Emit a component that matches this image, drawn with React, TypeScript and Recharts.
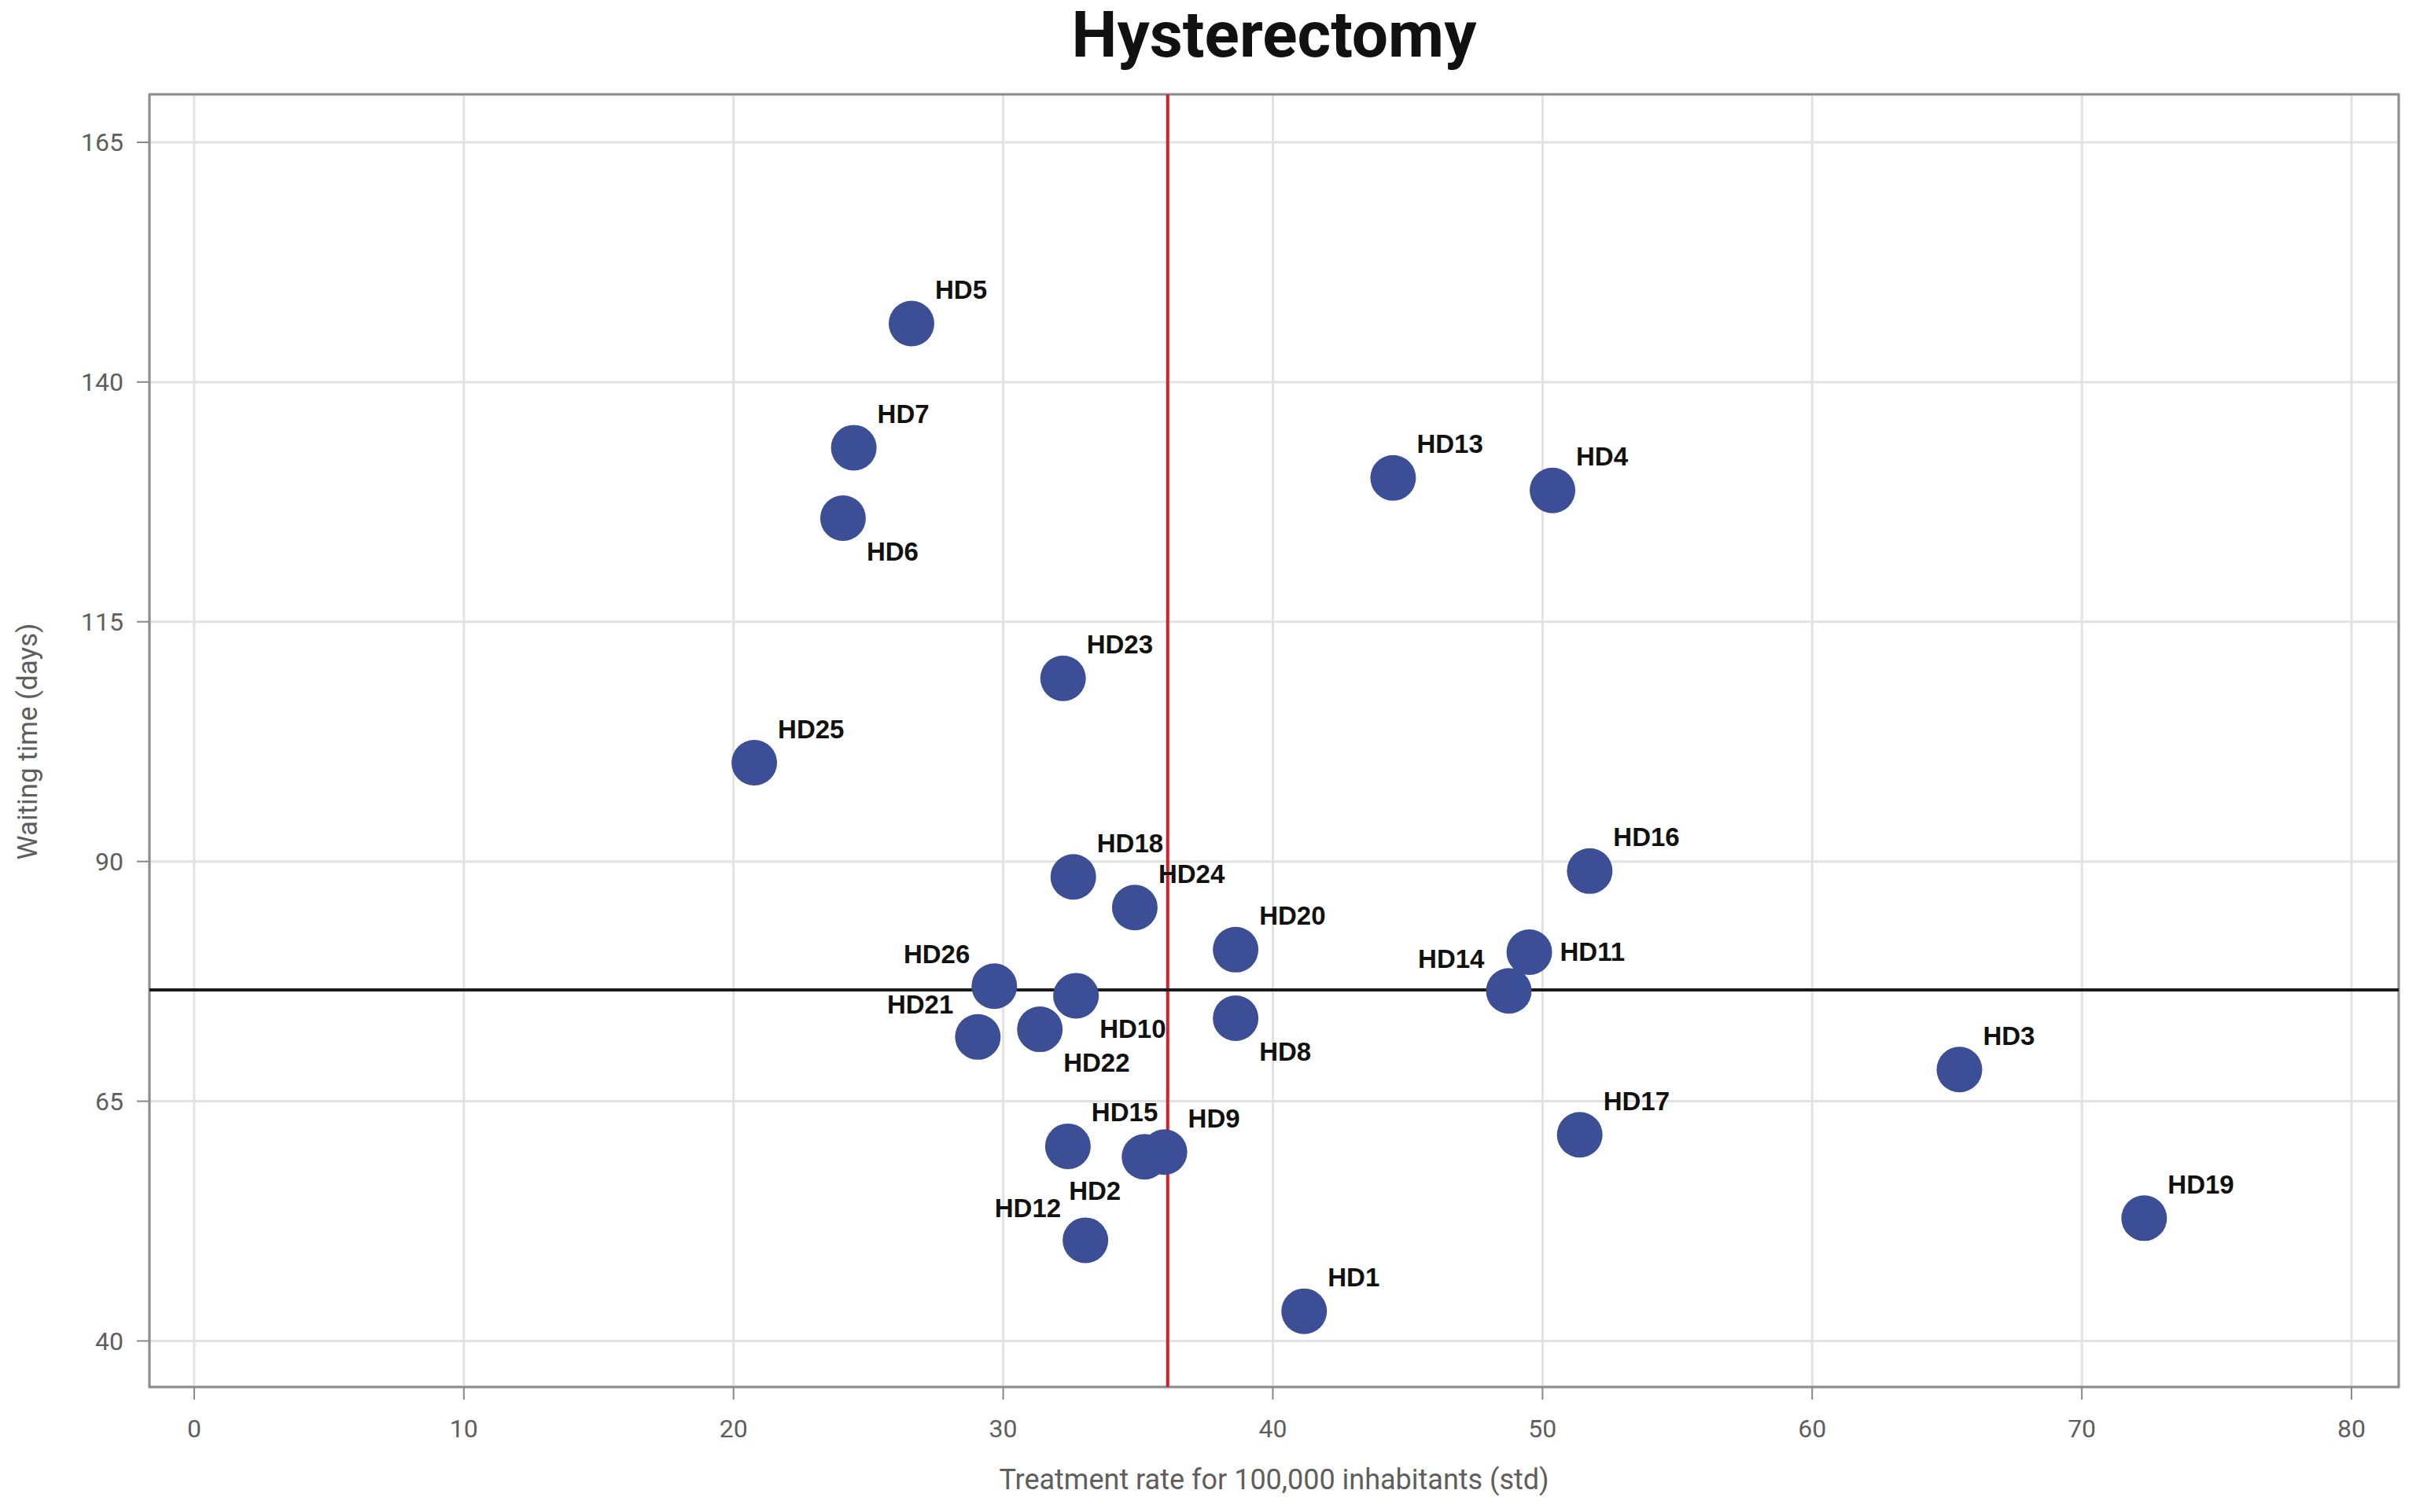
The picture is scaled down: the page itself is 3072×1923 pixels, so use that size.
import React from "react"
import {
  ScatterChart,
  Scatter,
  XAxis,
  YAxis,
  CartesianGrid,
  ReferenceLine,
  ReferenceArea,
} from "recharts"

// hospital districts, treatment rate (x) and waiting time in days (y)
const SITES = [
  "HD1", "HD2", "HD3", "HD4", "HD5", "HD6", "HD7", "HD8", "HD9", "HD10",
  "HD11", "HD12", "HD13", "HD14", "HD15", "HD16", "HD17", "HD18", "HD19", "HD20",
  "HD21", "HD22", "HD23", "HD24", "HD25", "HD26",
]
const RATE = [
  41.16, 35.24, 65.46, 50.37, 26.6, 24.06, 24.46, 38.62, 35.98, 32.7,
  49.51, 33.05, 44.46, 48.75, 32.4, 51.75, 51.38, 32.6, 72.31, 38.62,
  29.06, 31.36, 32.22, 34.88, 20.77, 29.67,
]
const WAIT = [
  43.1, 59.2, 68.3, 128.7, 146.1, 125.8, 133.15, 73.65, 59.7, 76.0,
  80.55, 50.5, 130.0, 76.5, 60.3, 89.0, 61.5, 88.4, 52.8, 80.8,
  71.7, 72.5, 109.1, 85.2, 100.3, 77.0,
]
const X_TICKS = [0, 10, 20, 30, 40, 50, 60, 70, 80]
const Y_TICKS = [40, 65, 90, 115, 140, 165]
const X_DOMAIN = [-1.66, 81.75]
const Y_DOMAIN = [35.2, 170]
const MEAN_RATE = 36.1
const MEAN_WAIT = 76.6

const data = SITES.map((name, i) => ({ name, x: RATE[i], y: WAIT[i] }))

// where each label sits relative to its dot (default: top right)
const LABEL_SIDE: Record<string, string> = {
  HD6: "br",
  HD8: "br",
  HD10: "br",
  HD22: "br",
  HD11: "r",
  HD14: "tl",
  HD26: "tl",
  HD21: "tl",
  HD12: "tl",
  HD2: "bl",
}
const OFFSETS: Record<string, { dx: number; dy: number; anchor: string }> = {
  tr: { dx: 30, dy: -43, anchor: "start" },
  br: { dx: 30, dy: 42, anchor: "start" },
  tl: { dx: -31, dy: -41, anchor: "end" },
  bl: { dx: -30, dy: 43, anchor: "end" },
  r: { dx: 39, dy: 0, anchor: "start" },
}

const DOT = "#3c4f96"
const TICK_STYLE = { fontFamily: "Roboto", fontSize: 32, fill: "#5e5e5e" }

const Dot = (props: any) => {
  const { cx, cy } = props
  if (cx == null || cy == null) return null
  return <circle cx={cx} cy={cy} r={29} fill={DOT} />
}

const DotLabel = (props: any) => {
  const { cx, cy, payload } = props
  if (cx == null || cy == null) return null
  const o = OFFSETS[LABEL_SIDE[payload.name] || "tr"]
  return (
    <text
      x={cx + o.dx}
      y={cy + o.dy}
      textAnchor={o.anchor}
      dominantBaseline="central"
      fontFamily="Liberation Sans, Arial, sans-serif"
      fontWeight="bold"
      fontSize={33}
      fill="#111"
    >
      {payload.name}
    </text>
  )
}

export default function App() {
  return (
    <div
      style={{
        position: "absolute",
        left: 0,
        top: 0,
        width: 3072,
        height: 1923,
        background: "#fff",
        fontFamily: "Roboto, sans-serif",
      }}
    >
      <div
        style={{
          position: "absolute",
          left: 190,
          width: 2860,
          top: 3,
          textAlign: "center",
          fontSize: 82,
          lineHeight: 1,
          fontWeight: 700,
          color: "#111",
        }}
      >
        Hysterectomy
      </div>
      <div
        style={{
          position: "absolute",
          left: 35,
          top: 943,
          transform: "translate(-50%, -50%) rotate(-90deg)",
          whiteSpace: "nowrap",
          fontSize: 35,
          lineHeight: 1,
          color: "#5e5e5e",
        }}
      >
        Waiting time (days)
      </div>
      <div
        style={{
          position: "absolute",
          left: 190,
          width: 2860,
          top: 1864,
          textAlign: "center",
          fontSize: 36,
          lineHeight: 1,
          color: "#5e5e5e",
        }}
      >
        Treatment rate for 100,000 inhabitants (std)
      </div>
      <ScatterChart
        width={3072}
        height={1923}
        margin={{ top: 120, right: 22, left: 70, bottom: 59 }}
      >
        <CartesianGrid stroke="#e2e2e2" strokeWidth={3} />
        <XAxis
          type="number"
          dataKey="x"
          domain={X_DOMAIN}
          ticks={X_TICKS}
          allowDataOverflow
          height={100}
          axisLine={false}
          tickSize={16}
          tickMargin={25}
          tickLine={{ stroke: "#888", strokeWidth: 2 }}
          tick={TICK_STYLE}
        />
        <YAxis
          type="number"
          dataKey="y"
          domain={Y_DOMAIN}
          ticks={Y_TICKS}
          allowDataOverflow
          width={120}
          axisLine={false}
          tickSize={16}
          tickMargin={17}
          tickLine={{ stroke: "#888", strokeWidth: 2 }}
          tick={TICK_STYLE}
        />
        <ReferenceArea
          x1={X_DOMAIN[0]}
          x2={X_DOMAIN[1]}
          y1={Y_DOMAIN[0]}
          y2={Y_DOMAIN[1]}
          fill="none"
          stroke="#8c8c8c"
          strokeWidth={3}
        />
        <Scatter data={data} shape={Dot} isAnimationActive={false} />
        <Scatter data={data} shape={DotLabel} isAnimationActive={false} />
        <ReferenceLine x={MEAN_RATE} stroke="#d0202a" strokeWidth={4} />
        <ReferenceLine y={MEAN_WAIT} stroke="#1a1a1a" strokeWidth={4} />
      </ScatterChart>
    </div>
  )
}
